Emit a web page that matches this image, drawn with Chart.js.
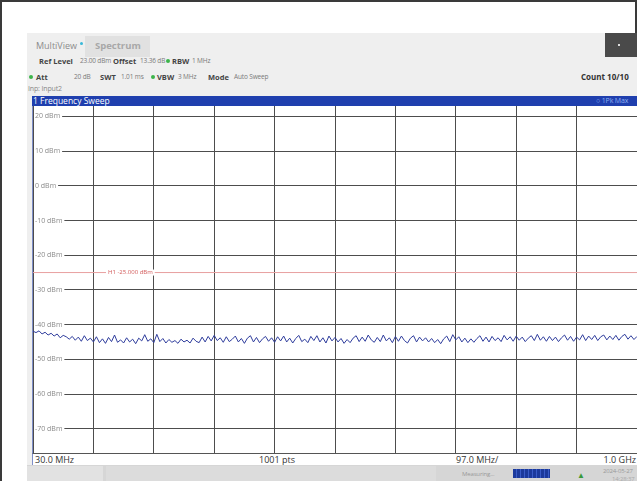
<!DOCTYPE html>
<html>
<head>
<meta charset="utf-8">
<script src="https://cdn.jsdelivr.net/npm/chart.js@4.4.1/dist/chart.umd.min.js"></script>
<style>
  body { margin: 0; width: 637px; height: 481px; background: #fff; position: relative; overflow: hidden; font-family: "Open Sans", "Noto Sans", sans-serif; }
  .frame { position: absolute; left: 0; top: 0; width: 633px; height: 481px; border: 2px solid #3a3a3a; border-bottom: none; }
  .screen { position: absolute; left: 27px; top: 33px; width: 610px; height: 448px; background: #efefef; }
  .t { position: absolute; white-space: nowrap; font-size: 6.5px; color: #7a7a7a; line-height: 10px; letter-spacing: -0.15px; }
  .b { font-weight: bold; color: #444; font-size: 7.5px; letter-spacing: 0; }
  .dot { position: absolute; width: 4px; height: 4px; border-radius: 2px; background: #3cb44a; }
  .bar { position: absolute; left: 32px; top: 96px; width: 605px; height: 10px; background: #1f3fae; }
  .plot { position: absolute; left: 32px; top: 106px; width: 605px; height: 347px; background: #fff; border-left: 1px solid #7f8fc8; }
  .plot canvas { display: block; }
  .bottom { position: absolute; left: 32px; top: 453px; width: 605px; height: 11px; background: #fff; border-top: 1px solid #555; border-left: 1px solid #7f8fc8; }
  .bottom .t { color: #333; font-size: 9px; line-height: 11px; top: 0; letter-spacing: 0; }
  .status { position: absolute; left: 27px; top: 465px; width: 610px; height: 16px; background: #d6d6d6; }
</style>
</head>
<body>
<div class="frame"></div>
<div class="screen"></div>

<div class="t" style="left:36px;top:40px;font-size:9px;line-height:12px;color:#8c8c8c;letter-spacing:0;">MultiView</div>
<div class="dot" style="left:80px;top:42px;background:#3ab8d8;width:3px;height:3px;"></div>
<div style="position:absolute;left:85px;top:36px;width:65px;height:21px;background:#e1e1e1;"></div>
<div class="t" style="left:95px;top:40px;font-size:9.5px;line-height:12px;color:#a8a8a8;font-weight:bold;letter-spacing:0;">Spectrum</div>
<div style="position:absolute;left:605px;top:33px;width:32px;height:24px;background:#4a4a4a;"></div>
<div style="position:absolute;left:618px;top:44px;width:2px;height:2px;background:#ddd;"></div>

<div class="t b" style="left:39px;top:56px;">Ref Level</div>
<div class="t" style="left:80px;top:56px;">23.00 dBm</div>
<div class="t b" style="left:113px;top:56px;">Offset</div>
<div class="t" style="left:140px;top:56px;">13.36 dB</div>
<div class="dot" style="left:166px;top:59px;"></div>
<div class="t b" style="left:172px;top:56px;">RBW</div>
<div class="t" style="left:192px;top:56px;">1 MHz</div>

<div class="dot" style="left:29px;top:75px;"></div>
<div class="t b" style="left:36px;top:72px;">Att</div>
<div class="t" style="left:74px;top:72px;">20 dB</div>
<div class="t b" style="left:100px;top:72px;">SWT</div>
<div class="t" style="left:121px;top:72px;">1.01 ms</div>
<div class="dot" style="left:151px;top:75px;"></div>
<div class="t b" style="left:157px;top:72px;">VBW</div>
<div class="t" style="left:178px;top:72px;">3 MHz</div>
<div class="t b" style="left:208px;top:72px;">Mode</div>
<div class="t" style="left:234px;top:72px;">Auto Sweep</div>
<div class="t b" style="left:581px;top:72px;color:#333;font-size:8px;">Count 10/10</div>
<div class="t" style="left:28px;top:84px;font-size:7px;color:#888;">Inp: Input2</div>

<div class="bar"></div>
<div class="t" style="left:33px;top:96px;color:#fff;font-size:8.5px;letter-spacing:0;">1 Frequency Sweep</div>
<div class="t" style="left:596px;top:96px;color:#8fb0f0;font-size:7px;">&#9675; 1Pk Max</div>

<div class="plot"><canvas id="c" width="604" height="347"></canvas></div>

<div class="bottom">
  <div class="t" style="left:2px;">30.0 MHz</div>
  <div class="t" style="left:226px;">1001 pts</div>
  <div class="t" style="left:423px;">97.0 MHz/</div>
  <div class="t" style="right:2px;">1.0 GHz</div>
</div>

<div class="status"></div>
<div style="position:absolute;left:27px;top:466px;width:76px;height:15px;background:#e2e2e2;"></div>
<div style="position:absolute;left:106px;top:466px;width:330px;height:15px;background:#dcdcdc;"></div>
<div class="t" style="left:462px;top:469px;font-size:6px;color:#999;">Measuring...</div>
<div style="position:absolute;left:513px;top:469px;width:37px;height:9px;background:repeating-linear-gradient(90deg,#1c3a9c 0 3px,#3a5cc8 3px 4px);"></div>
<div class="t" style="left:577px;top:470px;font-size:8px;color:#3a9a3a;">&#9650;</div>
<div class="t" style="left:603px;top:466px;font-size:6px;color:#999;">2024-05-27</div>
<div class="t" style="left:612px;top:474px;font-size:6px;color:#aaa;">14:28:37</div>

<script>
// sweep setup
const startMHz = 30;
const stopMHz = 1000;
const refLevel = 23;
const bottomLevel = -77;
const lineLevel = -25;
const lineLabel = "H1 -25.000 dBm";

const yTicks = [20, 10, 0, -10, -20, -30, -40, -50, -60, -70];
const xTicks = [30, 127, 224, 321, 418, 515, 612, 709, 806, 903, 1000];

// trace, 201 samples across the span (dBm)
const levels = [
  -41.9, -42.3, -41.8, -42.7, -42.2, -43.0, -42.5, -43.3, -42.7, -43.8,
  -43.1, -43.5, -44.2, -43.4, -44.5, -43.6, -44.8, -43.2, -44.6, -43.9,
  -45.0,
  -43.5, -45.2, -44.1, -45.4, -43.7, -44.9, -43.0, -45.1, -44.4, -45.3,
  -43.8, -45.0, -44.2, -45.5, -43.9, -44.7, -42.9, -44.8, -44.1, -45.2,
  -42.8, -44.9, -44.0, -45.3, -44.3, -45.1, -44.6, -45.4, -44.2, -45.0,
  -44.5, -45.3, -43.9, -44.8, -45.2, -43.6, -45.0, -43.4, -44.7, -43.1,
  -44.6, -43.8, -45.1, -43.5, -44.9, -44.2, -43.3, -45.0, -44.0, -45.4,
  -43.9, -43.2, -45.0, -43.7, -45.2, -44.1, -43.4, -44.8, -43.8, -45.1,
  -43.5, -44.7, -43.3, -45.0, -43.9, -45.3, -44.0, -43.1, -44.9, -44.2,
  -45.2, -43.4, -44.6, -43.2, -45.0, -43.8, -45.3, -43.3, -44.7, -43.7,
  -45.0, -44.0, -45.4, -44.3, -45.2, -43.9, -43.2, -44.9, -43.6, -44.8,
  -43.0, -44.4, -45.1, -43.7, -44.9, -43.0, -44.7, -43.8, -45.2, -43.4,
  -44.8, -43.3, -44.6, -45.3, -43.9, -43.2, -45.0, -43.6, -44.7, -43.8,
  -45.0, -44.0, -45.2, -44.3, -45.5, -44.1, -43.3, -44.9, -42.9, -44.4,
  -43.5, -45.0, -43.9, -45.2, -44.1, -45.1, -44.0, -43.2, -44.8, -43.6,
  -45.0, -43.4, -44.6, -43.8, -44.9, -43.1, -44.4, -43.5, -44.8, -43.3,
  -44.5, -43.6, -44.9, -43.9, -43.2, -44.6, -42.8, -44.5, -43.5, -44.8,
  -43.4, -44.6, -43.6, -44.9, -43.8, -43.0, -44.5, -43.4, -44.8, -43.6,
  -44.4, -42.9, -44.6, -43.3, -44.3, -43.1, -44.6, -43.5, -43.0, -44.4,
  -43.3, -44.3, -43.1, -44.5, -43.4, -42.8, -44.2, -43.2, -44.3, -43.4
];

const trace = levels.map((v, i) => ({ x: startMHz + i * (stopMHz - startMHz) / (levels.length - 1), y: v }));

const markerText = {
  id: "markerText",
  afterDatasetsDraw(chart) {
    const { ctx, chartArea, scales } = chart;
    const y = scales.y.getPixelForValue(lineLevel);
    const x = chartArea.left + 75;
    ctx.save();
    ctx.font = "6px 'Open Sans', sans-serif";
    const w = ctx.measureText(lineLabel).width;
    ctx.fillStyle = "#fff";
    ctx.fillRect(x - 2, y - 3, w + 4, 6);
    ctx.fillStyle = "#d25a5a";
    ctx.textBaseline = "middle";
    ctx.fillText(lineLabel, x, y);
    ctx.restore();
  }
};

new Chart(document.getElementById("c"), {
  type: "line",
  data: {
    datasets: [
      { data: trace, borderColor: "#2e3c9c", borderWidth: 1, pointRadius: 0, tension: 0 },
      { data: [{ x: startMHz, y: lineLevel }, { x: stopMHz, y: lineLevel }], borderColor: "#e8a0a0", borderWidth: 1, pointRadius: 0 }
    ]
  },
  options: {
    responsive: false,
    animation: false,
    devicePixelRatio: 1,
    layout: { padding: 0 },
    plugins: { legend: { display: false }, tooltip: { enabled: false } },
    scales: {
      x: {
        type: "linear", min: startMHz, max: stopMHz,
        afterBuildTicks: s => { s.ticks = xTicks.map(v => ({ value: v })); },
        afterFit: s => { s.height = 0; s.paddingLeft = 0; s.paddingRight = 0; },
        ticks: { display: false },
        grid: { color: "#4d4d4d", lineWidth: 1, drawTicks: false },
        border: { display: false }
      },
      y: {
        min: bottomLevel, max: refLevel,
        afterBuildTicks: s => { s.ticks = yTicks.map(v => ({ value: v })); },
        afterFit: s => { s.width = 0; s.paddingTop = 0; s.paddingBottom = 0; },
        grid: { color: "#4d4d4d", lineWidth: 1, drawTicks: false },
        border: { display: false },
        ticks: {
          mirror: true, padding: 2, color: "#8a8a8a",
          font: { size: 7, family: "'Open Sans', sans-serif" },
          callback: v => v + " dBm",
          showLabelBackdrop: true, backdropColor: "#fff",
          backdropPadding: { left: 1, right: 2, top: 0, bottom: 0 }
        }
      }
    }
  },
  plugins: [markerText]
});
</script>
</body>
</html>
